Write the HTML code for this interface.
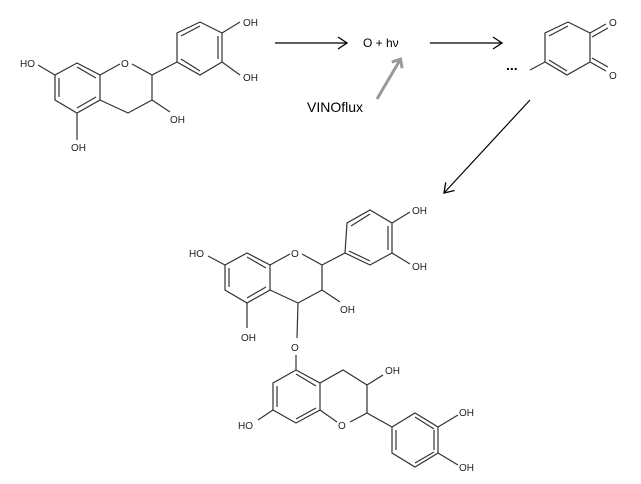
<!DOCTYPE html>
<html><head><style>html,body{margin:0;padding:0;background:#fff}svg{display:block}</style></head>
<body>
<svg width="641" height="484" viewBox="0 0 641 484" xmlns="http://www.w3.org/2000/svg">
<defs>
<marker id="ah" markerWidth="14" markerHeight="14" refX="10" refY="7" orient="auto" markerUnits="userSpaceOnUse">
<path d="M1,1 L10,7 L1,13" fill="none" stroke="#000" stroke-width="1.3"/></marker>
<marker id="ahg" markerWidth="14" markerHeight="14" refX="7" refY="7" orient="auto" markerUnits="userSpaceOnUse">
<path d="M1,1 L8,7 L1,13" fill="none" stroke="#999" stroke-width="3"/></marker>
</defs>
<g stroke="#333" stroke-width="1.2" fill="none">
<path d="M77,63 L100,75 L100,100 L77,113 L55,100 L55,75 Z"/>
<path d="M59,78 L59,97 M96,97 L77,108 M96,78 L77,67"/>
<path d="M100,75 L120,64 M132,64 L152,75 L152,100 L128,113 L100,100"/>
<path d="M55,75 L38,65 M77,113 L77,140 M152,100 L170,112"/>
<path d="M152,75 L177,62"/>
<path d="M177,62 L177,33 L200,22 L222,33 L222,62 L200,75 Z"/>
<path d="M181,36 L200,26 M218,36 L218,59 M181,59 L200,71"/>
<path d="M222,33 L240,22 M222,62 L240,75"/>
<path d="M545,62 L545,33 L568,22 L590,33 L590,62 L567,75 Z"/>
<path d="M549,36 L568,26 M549,60 L567,71"/>
<path d="M590,33 L606,24 M592,37 L608,28 M590,62 L606,71 M592,58 L608,67"/>
<path d="M545,62 L530,70"/>
<path d="M247,253 L270,265 L270,290 L247,303 L225,290 L225,265 Z"/>
<path d="M229,268 L229,287 M266,287 L247,298 M266,268 L247,257"/>
<path d="M270,265 L290,254 M302,254 L322,265 L322,290 L298,303 L270,290"/>
<path d="M225,265 L208,256 M247,303 L247,328 M322,290 L340,302"/>
<path d="M322,265 L345,253"/>
<path d="M345,253 L347,223 L370,210 L392,223 L392,253 L370,265 Z"/>
<path d="M351,226 L370,214 M388,226 L388,250 M349,251 L370,261"/>
<path d="M392,223 L410,212 M392,253 L410,264"/>
<path d="M298,303 L297,338 M296,355 L296,370"/>
<path d="M296,370 L320,383 L320,410 L296,423 L273,410 L273,383 Z"/>
<path d="M277,386 L277,407 M296,419 L316,408 M296,374 L316,386"/>
<path d="M320,383 L343,370 L367,385 L367,413 L350,422 M337,422 L320,410"/>
<path d="M273,410 L258,420 M367,385 L383,375"/>
<path d="M367,413 L392,427"/>
<path d="M392,427 L415,413 L438,427 L438,453 L415,467 L392,453 Z"/>
<path d="M396,430 L396,450 M415,417 L434,429 M434,430 L434,450 M415,463 L434,452"/>
<path d="M438,427 L458,415 M438,453 L458,465"/>
</g>
<g stroke="#000" stroke-width="1.2">
<line x1="275" y1="43" x2="347" y2="43" marker-end="url(#ah)"/>
<line x1="430" y1="43" x2="502" y2="43" marker-end="url(#ah)"/>
<line x1="530" y1="100" x2="444" y2="193" marker-end="url(#ah)"/>
</g>
<line x1="377" y1="99" x2="400" y2="60" stroke="#999" stroke-width="3" marker-end="url(#ahg)"/>
<g font-family="Liberation Sans, sans-serif" font-size="10" fill="#222">
<text x="20" y="67">HO</text>
<text x="243" y="26">OH</text>
<text x="243" y="81">OH</text>
<text x="170" y="123">OH</text>
<text x="71" y="151">OH</text>
<text x="121" y="67">O</text>
<text x="609" y="26">O</text>
<text x="609" y="79">O</text>
<text x="189" y="257">HO</text>
<text x="412" y="214">OH</text>
<text x="412" y="270">OH</text>
<text x="340" y="313">OH</text>
<text x="241" y="341">OH</text>
<text x="291" y="257">O</text>
<text x="291" y="351">O</text>
<text x="385" y="374">OH</text>
<text x="238" y="429">HO</text>
<text x="338" y="429">O</text>
<text x="459" y="416">OH</text>
<text x="459" y="471">OH</text>
</g>
<g font-family="Liberation Sans, sans-serif" fill="#000">
<text x="363" y="47" font-size="12">O + hν</text>
<text x="307" y="112" font-size="14">VINOflux</text>
<text x="506" y="70" font-size="14" font-weight="bold">...</text>
</g>
</svg>
</body></html>
